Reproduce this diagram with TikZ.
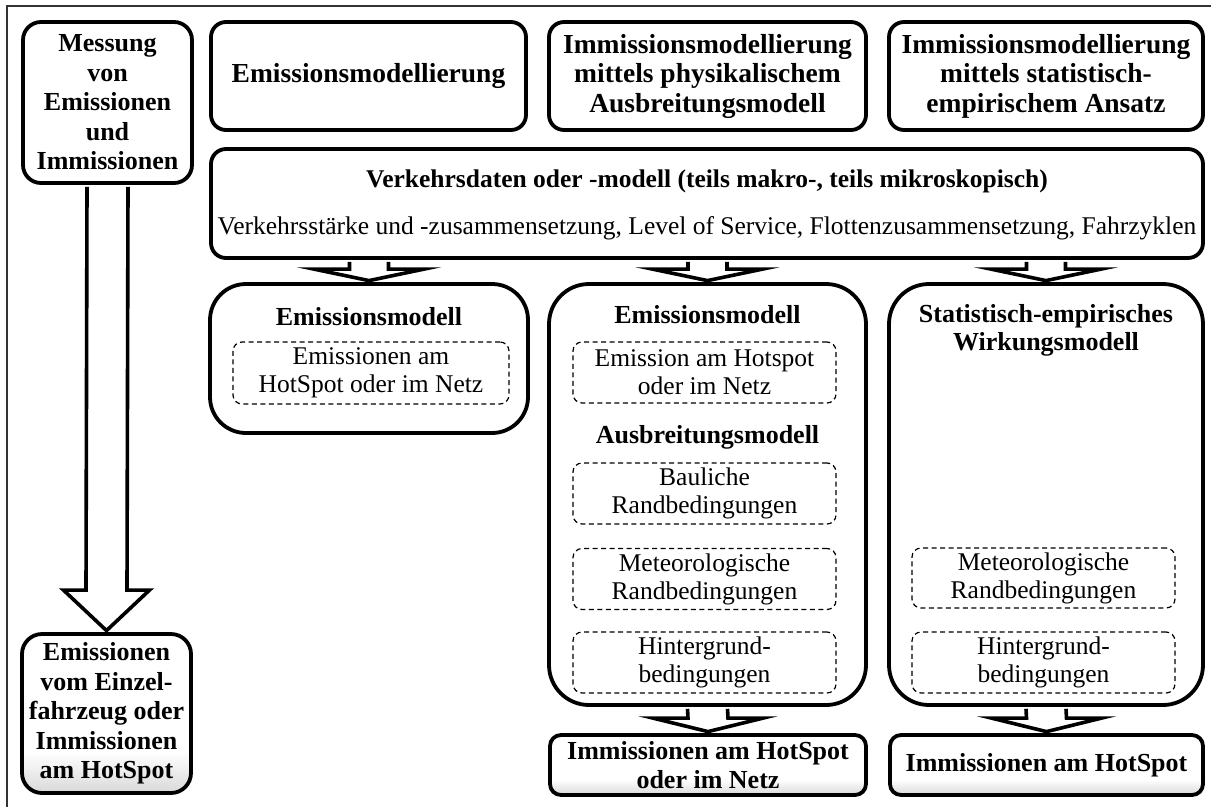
\documentclass[tikz,border=0pt]{standalone}
\usepackage{fontspec}
\setmainfont{Liberation Serif}
\usetikzlibrary{calc}

\newcommand{\bftext}{\fontsize{26}{29.5}\selectfont\bfseries}
\newcommand{\toptext}{\fontsize{27.5}{29.5}\selectfont\bfseries}
\newcommand{\rmtext}{\fontsize{25.5}{28}\selectfont}

\pgfdeclareverticalshading{resultshade}{100bp}{color(0bp)=(black!15); color(25bp)=(black!15); color(38bp)=(white); color(100bp)=(white)}

% #1 start, #2 end, #3 half shaft, #4 half head, #5 head length
\newcommand{\blockarrow}[5]{%
  \draw[arrowline] ($(#1)+(-#3,1.9)$) -- ($(#2)+(-#3,-#5)$) -- ($(#2)+(-#4,-#5)$)
    -- ($(#2)+(0,-1.5)$) -- ($(#2)+(#4,-#5)$) -- ($(#2)+(#3,-#5)$) -- ($(#1)+(#3,1.9)$);}

\begin{document}
\begin{tikzpicture}[x=1pt,y=-1pt,line join=miter]
  \tikzstyle{rbox}=[draw,line width=3.8pt,rounded corners=15pt,fill=white,
                    align=center,font=\bftext,inner sep=0pt]
  \tikzstyle{colbox}=[rbox,rounded corners=40pt]
  \tikzstyle{resbox}=[rbox,shade,shading=resultshade,rounded corners=11pt]
  \tikzstyle{dashbox}=[draw,line width=1.2pt,dash pattern=on 5pt off 3.5pt,
                       rounded corners=9pt,align=center,font=\rmtext,inner sep=0pt]
  \tikzstyle{title}=[align=center,font=\bftext,inner sep=0pt]
  \tikzstyle{arrowline}=[line width=3.6pt,fill=white]
  \tikzstyle{frameline}=[line width=1.8pt,black!80]

  \useasboundingbox (0,0) rectangle (1211,807);
  \draw[frameline] (1211,6) -- (7,6) -- (7,807);

  % left column
  \node[rbox,minimum width=169pt,minimum height=161pt,rounded corners=18pt] (mess)
    at (107.5,102.5) {Messung\\von\\Emissionen\\und\\Immissionen};
  \node[resbox,minimum width=169pt,minimum height=159pt,rounded corners=20pt] (resA)
    at (106.5,713.5) {Emissionen\\vom Einzel-\\fahrzeug oder\\Immissionen\\am HotSpot};

  % top row
  \node[rbox,font=\toptext,minimum width=315pt,minimum height=108pt] (emimod)
    at (368.5,76) {Emissionsmodellierung};
  \node[rbox,font=\toptext,minimum width=317pt,minimum height=108pt] (physmod)
    at (707.5,76) {Immissionsmodellierung\\mittels physikalischem\\Ausbreitungsmodell};
  \node[rbox,font=\toptext,minimum width=314pt,minimum height=108pt] (statmod)
    at (1046,76) {Immissionsmodellierung\\mittels statistisch-\\empirischem Ansatz};

  \node[rbox,minimum width=992pt,minimum height=109pt] (verk) at (707,203.5) {};
  \node[title,font=\fontsize{25.5}{29}\selectfont\bfseries] (verktitle) at (707,181)
    {Verkehrsdaten oder -modell (teils makro-, teils mikroskopisch)};
  \node[align=center,font=\rmtext,inner sep=0pt] (verksub) at (707,228)
    {Verkehrsstärke und -zusammensetzung, Level of Service, Flottenzusammensetzung, Fahrzyklen};

  % model columns
  \node[colbox,rounded corners=36pt,minimum width=318pt,minimum height=149pt] (emA)
    at (369,358.5) {};
  \node[colbox,minimum width=317pt,minimum height=421pt] (colB) at (707.5,494.5) {};
  \node[colbox,minimum width=314pt,minimum height=421pt] (colC) at (1046,494.5) {};

  \node[title] (emAtitle) at (369,317) {Emissionsmodell};
  \node[dashbox,minimum width=276pt,minimum height=62pt] (emAnet) at (371,373)
    {Emissionen am\\HotSpot oder im Netz};

  \node[title] (emBtitle) at (707.5,315) {Emissionsmodell};
  \node[dashbox,minimum width=263pt,minimum height=61pt] (emBnet) at (704.5,372.5)
    {Emission am Hotspot\\oder im Netz};
  \node[title] (ausbtitle) at (707.5,437) {Ausbreitungsmodell};
  \node[dashbox,minimum width=263pt,minimum height=61pt] (baulB) at (704.5,493.5)
    {Bauliche\\Randbedingungen};
  \node[dashbox,minimum width=263pt,minimum height=61pt] (meteoB) at (704.5,579)
    {Meteorologische\\Randbedingungen};
  \node[dashbox,minimum width=263pt,minimum height=61pt] (hintB) at (704.5,662.5)
    {Hintergrund-\\bedingungen};

  \node[title,font=\fontsize{26}{28}\selectfont\bfseries] (statCtitle) at (1046,330)
    {Statistisch-empirisches\\Wirkungsmodell};
  \node[dashbox,minimum width=263pt,minimum height=60pt] (meteoC) at (1043.5,578)
    {Meteorologische\\Randbedingungen};
  \node[dashbox,minimum width=263pt,minimum height=61pt] (hintC) at (1043.5,662.5)
    {Hintergrund-\\bedingungen};

  % results
  \node[resbox,minimum width=316pt,minimum height=60pt] (resB) at (708,765)
    {Immissionen am HotSpot\\oder im Netz};
  \node[resbox,minimum width=313pt,minimum height=60pt] (resC) at (1046.5,765)
    {Immissionen am HotSpot};

  % block arrows
  \coordinate (vA) at (verk.south -| emA.north);
  \coordinate (vB) at (verk.south -| colB.north);
  \coordinate (vC) at (verk.south -| colC.north);
  \blockarrow{vA}{emA.north}{19.5}{55}{13}
  \blockarrow{vB}{colB.north}{19.5}{55}{13}
  \blockarrow{vC}{colC.north}{19.5}{55}{13}
  \blockarrow{colB.south}{resB.north}{20}{55}{15}
  \blockarrow{colC.south}{resC.north}{20}{55}{15}
  \blockarrow{mess.south}{resA.north}{20.5}{43}{42}
\end{tikzpicture}
\end{document}
